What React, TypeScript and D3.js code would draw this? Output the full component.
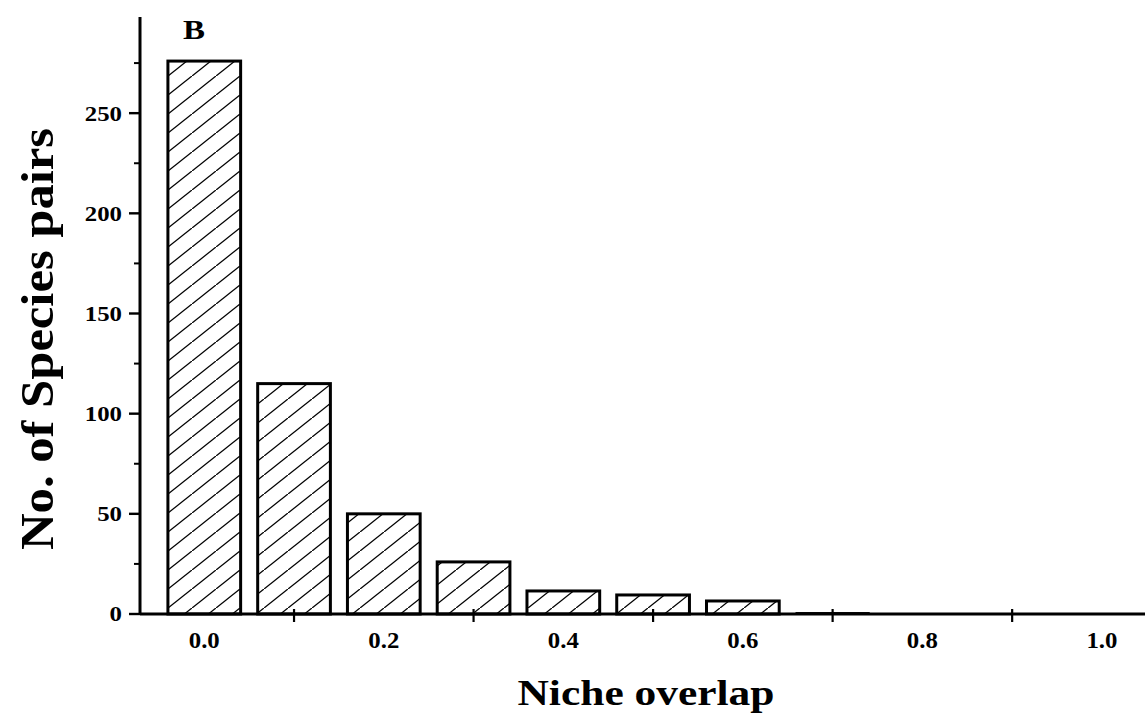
import * as d3 from "d3";

const W = 1148;
const H = 726;

// histogram bins (bar centres) and counts
const bins = [0.0, 0.1, 0.2, 0.3, 0.4, 0.5, 0.6, 0.7, 0.8, 0.9];
const counts = [276, 115, 50, 26, 11.5, 9.5, 6.5, 0.6, 0, 0];
const xTickLabels = [0.0, 0.2, 0.4, 0.6, 0.8, 1.0];
const xMinorTicks = [0.1, 0.3, 0.5, 0.7, 0.9];
const yTickLabels = [0, 50, 100, 150, 200, 250];
const yMinorTicks = [25, 75, 125, 175, 225, 275];

const BAR_W = 0.081;
const FONT = "'Liberation Serif', 'Times New Roman', Times, serif";

export default function App() {
  const xScale = d3.scaleLinear().domain([-0.0716, 1.048]).range([140, 1145]);
  const yScale = d3.scaleLinear().domain([0, 298]).range([614, 17]);
  const y0 = yScale(0);
  const xLeft = xScale.range()[0];
  const bw = xScale(BAR_W) - xScale(0);

  const bars = bins.map((b, i) => {
    if (counts[i] <= 0) return null;
    const top = yScale(counts[i]);
    return (
      <rect
        key={i}
        x={xScale(b) - bw / 2}
        y={top}
        width={bw}
        height={y0 - top}
        fill="url(#hatch)"
        stroke="#000"
        strokeWidth={counts[i] < 2 ? 1.5 : 3}
      />
    );
  });

  return (
    <svg
      width={W}
      height={H}
      style={{ position: "absolute", left: 0, top: 0, background: "#fff" }}
    >
      <defs>
        <pattern id="hatch" patternUnits="userSpaceOnUse" width={24} height={19}>
          <rect width={24} height={19} fill="#fff" />
          <path d="M-2,20.6 L26,-1.6" stroke="#000" strokeWidth={1.3} />
        </pattern>
      </defs>

      {bars}

      {/* y axis */}
      <line x1={xLeft} x2={xLeft} y1={yScale(298)} y2={y0} stroke="#000" strokeWidth={3} />
      {yTickLabels.map((t) => (
        <g key={t}>
          <line x1={xLeft - 11} x2={xLeft} y1={yScale(t)} y2={yScale(t)} stroke="#000" strokeWidth={2.4} />
          <text
            x={122}
            y={yScale(t)}
            dy="0.35em"
            textAnchor="end"
            fontFamily={FONT}
            fontWeight="bold"
            fontSize={21}
            textLength={String(t).length * 12.4}
            lengthAdjust="spacingAndGlyphs"
          >
            {t}
          </text>
        </g>
      ))}
      {yMinorTicks.map((t) => (
        <line key={t} x1={xLeft - 6} x2={xLeft} y1={yScale(t)} y2={yScale(t)} stroke="#000" strokeWidth={2} />
      ))}

      {/* x axis */}
      <line x1={xLeft} x2={xScale(1.048)} y1={y0} y2={y0} stroke="#000" strokeWidth={3} />
      {xMinorTicks.map((t) => (
        <line key={t} x1={xScale(t)} x2={xScale(t)} y1={y0 - 5} y2={y0 + 8} stroke="#000" strokeWidth={2.2} />
      ))}
      {xTickLabels.map((t) => (
        <text
          key={t}
          x={xScale(t)}
          y={648}
          textAnchor="middle"
          fontFamily={FONT}
          fontWeight="bold"
          fontSize={24}
          textLength={31}
          lengthAdjust="spacingAndGlyphs"
        >
          {t.toFixed(1)}
        </text>
      ))}

      {/* axis titles */}
      <text
        x={646}
        y={705}
        textAnchor="middle"
        fontFamily={FONT}
        fontWeight="bold"
        fontSize={36}
        textLength={257}
        lengthAdjust="spacingAndGlyphs"
      >
        Niche overlap
      </text>
      <text
        transform={`translate(53,339) rotate(-90)`}
        textAnchor="middle"
        fontFamily={FONT}
        fontWeight="bold"
        fontSize={46}
        textLength={422}
        lengthAdjust="spacingAndGlyphs"
      >
        No. of Species pairs
      </text>

      {/* panel letter */}
      <text
        x={183}
        y={39}
        fontFamily={FONT}
        fontWeight="bold"
        fontSize={27}
        textLength={22}
        lengthAdjust="spacingAndGlyphs"
      >
        B
      </text>
    </svg>
  );
}
